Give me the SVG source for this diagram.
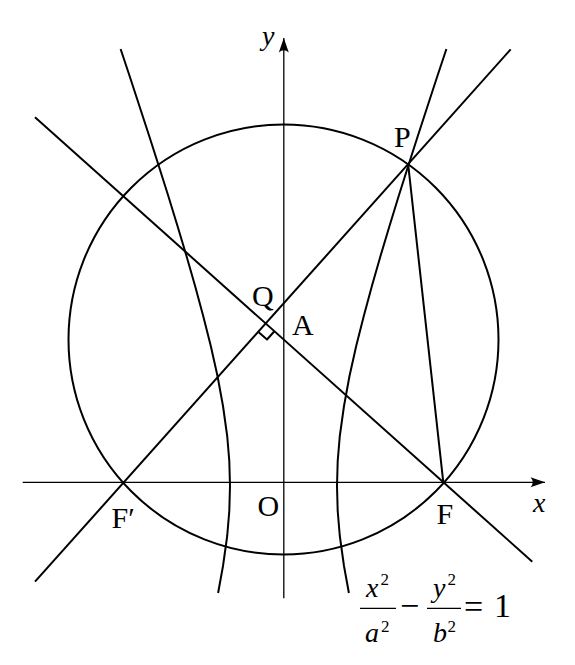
<svg xmlns="http://www.w3.org/2000/svg" width="575" height="665" viewBox="0 0 575 665">
<style>
.ax{stroke:#000;stroke-width:1.3;fill:none}
.cv{stroke:#000;stroke-width:2;fill:none;stroke-linejoin:round;stroke-linecap:butt}
.lb{font-family:"Liberation Serif","Times New Roman",serif;font-size:30px;fill:#000}
.it{font-family:"Liberation Serif","Times New Roman",serif;font-style:italic;font-size:28px;fill:#000}
.sp{font-family:"Liberation Serif","Times New Roman",serif;font-size:17px;fill:#000}
.op{font-family:"Liberation Serif","Times New Roman",serif;font-size:34px;fill:#000}
</style>
<defs>
<marker id="arr" markerUnits="userSpaceOnUse" markerWidth="20" markerHeight="20" viewBox="-16 -8 18 16" refX="0" refY="0" orient="auto">
<path d="M0,0 L-13,-4.5 Q-9,0 -13,4.5 Z" fill="#000"/>
</marker>
</defs>
<g id="axes">
<line class="ax" x1="22.7" y1="482.3" x2="545" y2="482.3" marker-end="url(#arr)"/>
<line class="ax" x1="283.8" y1="598.3" x2="283.8" y2="38" marker-end="url(#arr)"/>
</g>
<g id="circle">
<circle class="cv" cx="283.5" cy="339.5" r="215"/>
</g>
<g id="hyperbola">
<polyline class="cv" points="348.9,593 344.0,566 339.8,536 337.7,511 337.0,486 337.7,461 339.8,436 344.0,406 349.5,376 356.2,346 363.8,316 371.9,286 380.5,256 389.5,226 398.7,196 408.2,166 417.8,136 427.6,106 437.4,76 446.4,49"/>
<polyline class="cv" points="218.1,593 223.0,566 227.2,536 229.3,511 230.0,486 229.3,461 227.2,436 223.0,406 217.5,376 210.8,346 203.2,316 195.1,286 186.5,256 177.5,226 168.3,196 158.8,166 149.2,136 139.4,106 129.6,76 120.6,49"/>
</g>
<g id="connectors">
<line class="cv" x1="35" y1="581.7" x2="510.7" y2="49.3"/>
<line class="cv" x1="35" y1="117.3" x2="532.3" y2="561.7"/>
<line class="cv" x1="408.3" y1="165.7" x2="443.3" y2="482.3"/>
<polyline class="cv" stroke-width="1.5" points="258.7,332.3 267,339.5 274.2,331.5"/>
</g>
<g id="labels">
<text class="lb" x="394" y="146.7">P</text>
<text class="lb" x="252" y="306">Q</text>
<text class="lb" x="292" y="335">A</text>
<text class="lb" x="257.5" y="516">O</text>
<text class="lb" x="436.5" y="524">F</text>
<text class="lb" x="111.5" y="528.3">F′</text>
<text class="it" x="533" y="512">x</text>
<text class="it" x="262" y="45">y</text>
</g>
<g id="equation">
<text class="it" x="366" y="597">x</text>
<text class="sp" x="380.5" y="585">2</text>
<line class="ax" x1="360" y1="608.3" x2="396" y2="608.3"/>
<text class="it" x="365" y="641.5">a</text>
<text class="sp" x="381" y="631.7">2</text>
<text class="op" x="400" y="617">−</text>
<text class="it" x="433" y="597">y</text>
<text class="sp" x="447.5" y="585">2</text>
<line class="ax" x1="427" y1="608.3" x2="461" y2="608.3"/>
<text class="it" x="433" y="641.5">b</text>
<text class="sp" x="447.5" y="631.7">2</text>
<text class="op" x="464" y="618">=</text>
<text class="op" x="494" y="617">1</text>
</g>
</svg>
